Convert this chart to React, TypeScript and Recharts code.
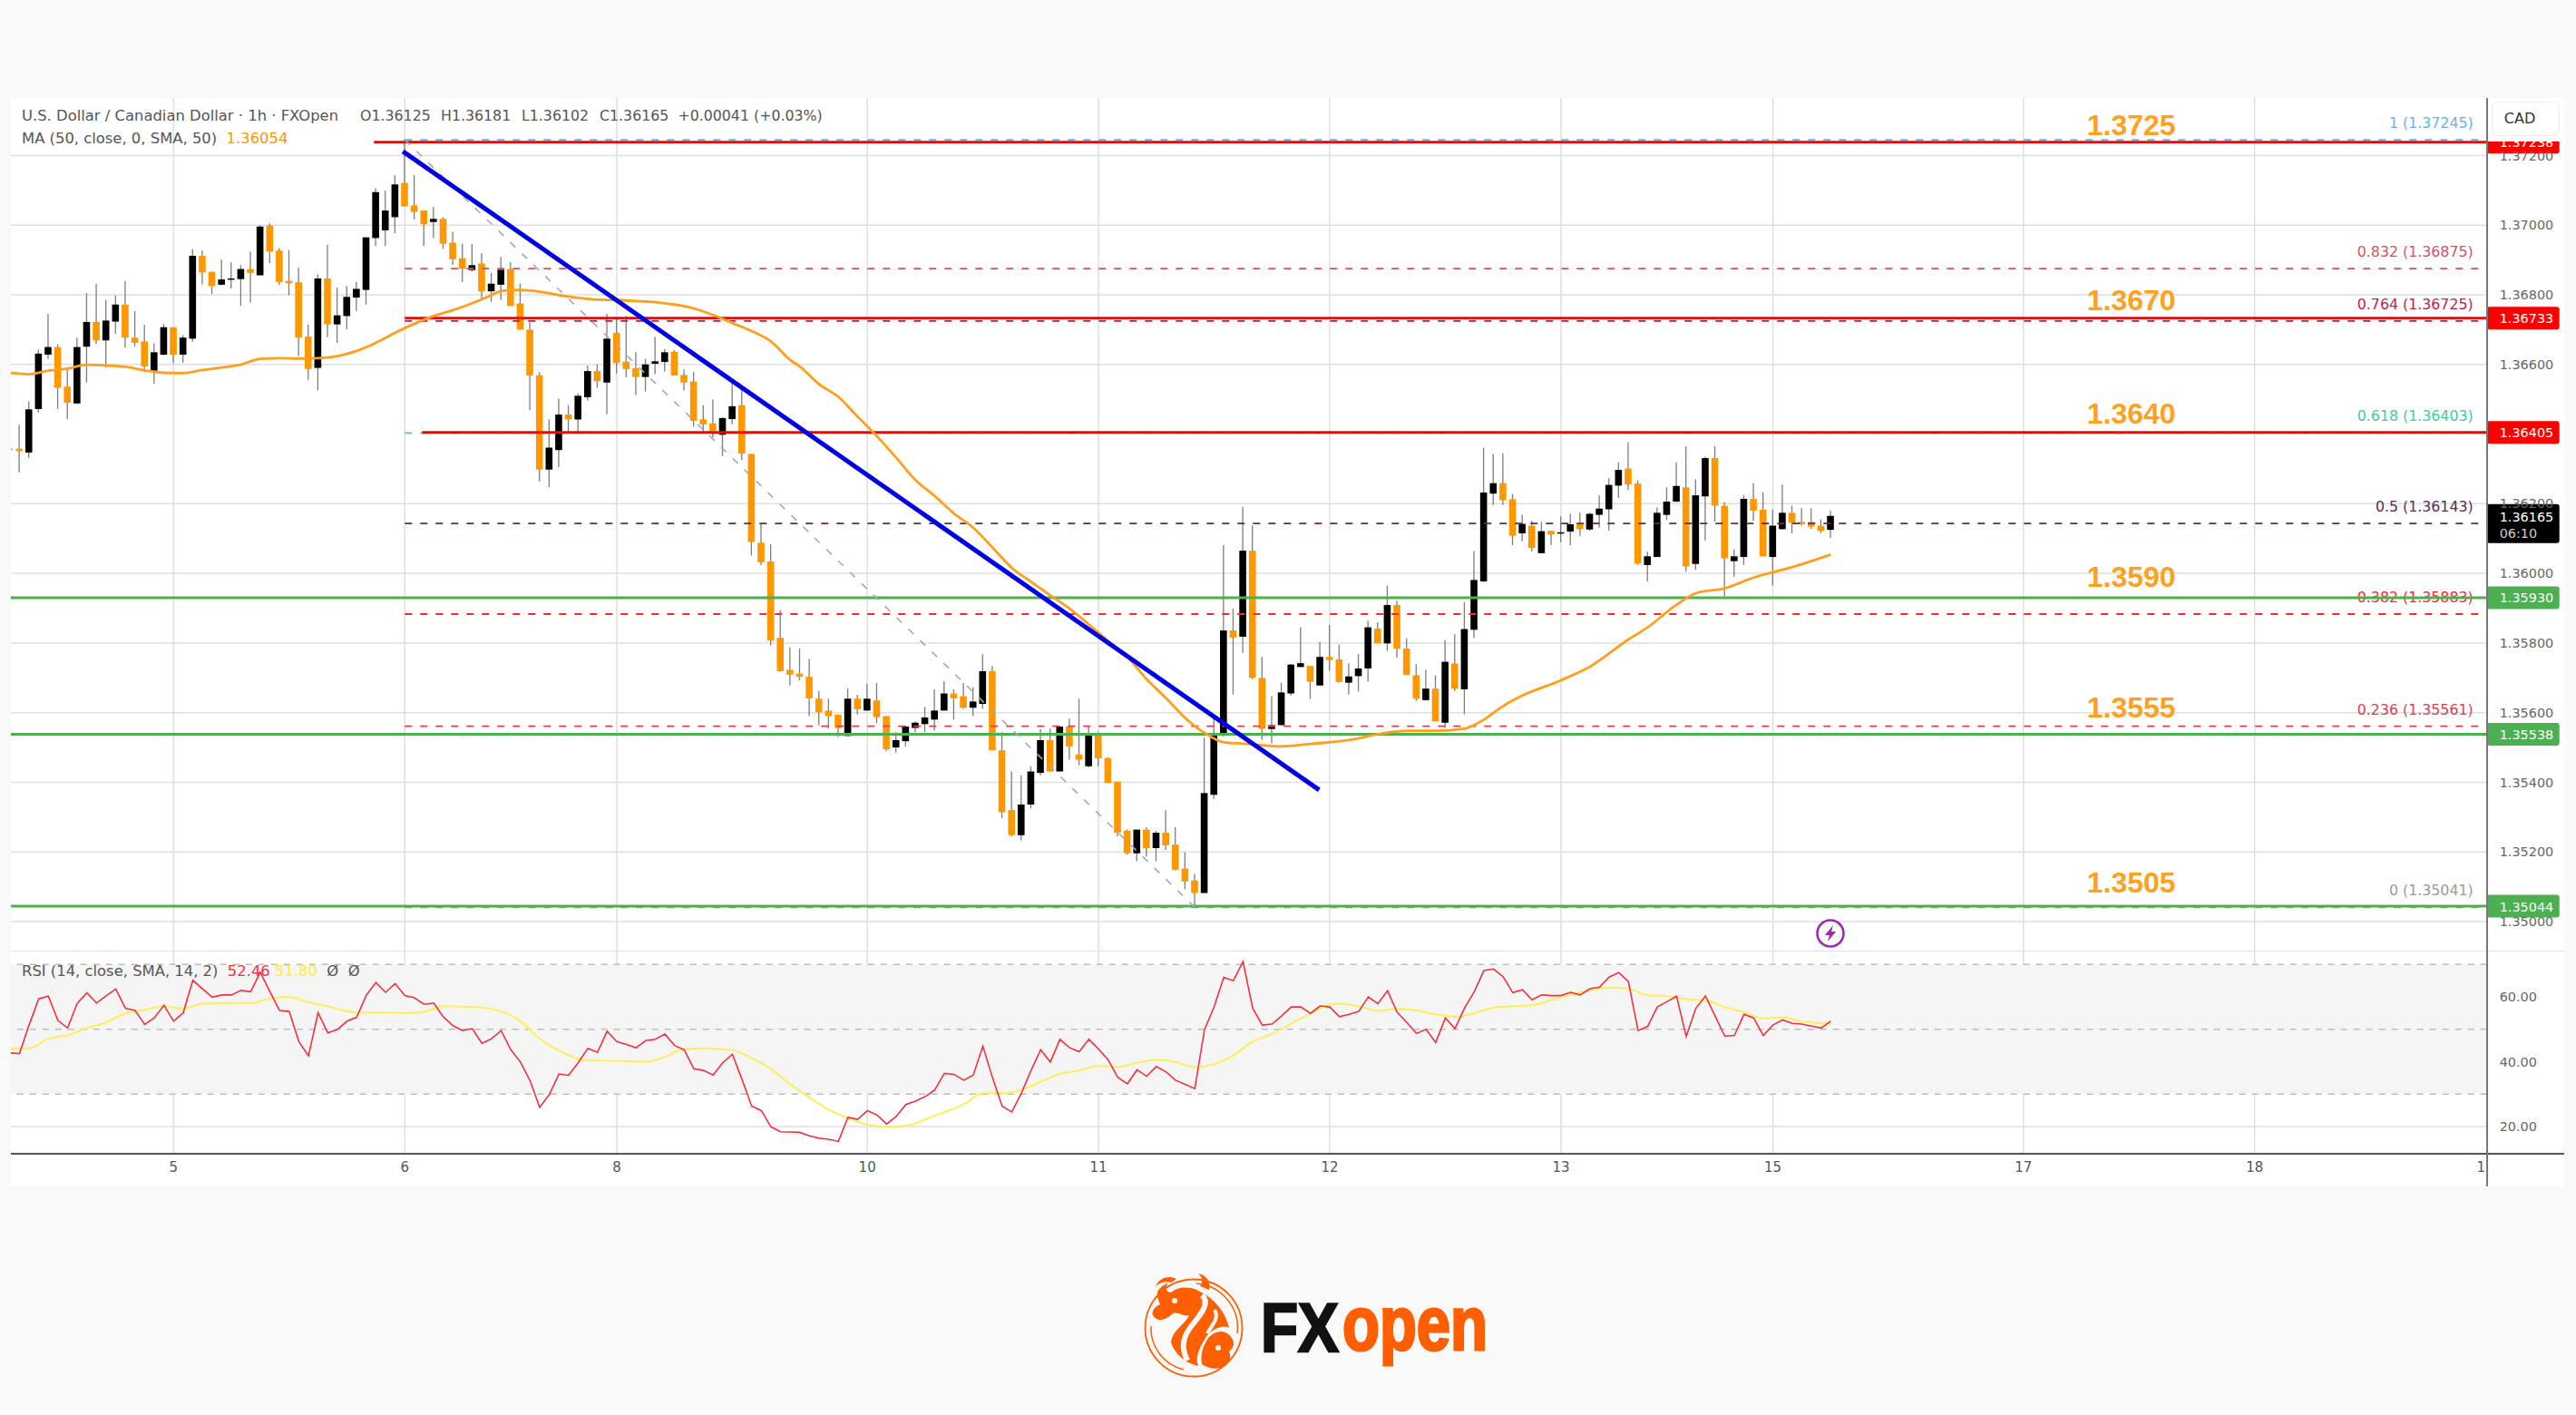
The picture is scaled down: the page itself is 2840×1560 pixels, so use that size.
import React from "react";
import {
  ComposedChart,
  Bar,
  Line,
  XAxis,
  YAxis,
  CartesianGrid,
  ReferenceLine,
  ReferenceArea,
} from "recharts";

// hourly candles
const opens = [
  1.36358, 1.36358, 1.36347, 1.36472, 1.36628, 1.3665, 1.36536, 1.36488, 1.36651, 1.36722,
  1.36669, 1.36723, 1.36772, 1.36677, 1.36666, 1.36582, 1.36628, 1.36707, 1.36628, 1.36674,
  1.36912, 1.36866, 1.36829, 1.36845, 1.36845, 1.36874, 1.36856, 1.36999, 1.36927, 1.3684,
  1.36836, 1.3668, 1.3659, 1.36847, 1.36715, 1.36739, 1.36792, 1.36814, 1.36963, 1.36985,
  1.37023, 1.37121, 1.37057, 1.37042, 1.37009, 1.37018, 1.3695, 1.36905, 1.36871, 1.3689,
  1.3681, 1.36829, 1.36874, 1.36775, 1.367, 1.36569, 1.36298, 1.36354, 1.36456, 1.36442,
  1.36506, 1.36581, 1.36548, 1.36691, 1.36608, 1.36589, 1.36564, 1.36602, 1.36607, 1.36636,
  1.3657, 1.36551, 1.36442, 1.36431, 1.36398, 1.36443, 1.36483, 1.36343, 1.36088, 1.36034,
  1.35815, 1.35723, 1.35712, 1.35703, 1.3564, 1.35606, 1.35594, 1.35533, 1.3564, 1.35606,
  1.35635, 1.3559, 1.355, 1.35518, 1.35556, 1.35567, 1.3558, 1.35606, 1.35655, 1.35647,
  1.35614, 1.35625, 1.35719, 1.35492, 1.3532, 1.35248, 1.35336, 1.35427, 1.35521, 1.35431,
  1.3556, 1.3548, 1.35446, 1.35537, 1.35469, 1.35402, 1.35261, 1.35196, 1.35264, 1.35211,
  1.35255, 1.35221, 1.35152, 1.35118, 1.35082, 1.35364, 1.35539, 1.35836, 1.35818, 1.36065,
  1.357, 1.35553, 1.35564, 1.35655, 1.35731, 1.35734, 1.35678, 1.3576, 1.35753, 1.35686,
  1.35705, 1.35727, 1.35841, 1.35799, 1.35909, 1.35784, 1.35707, 1.35636, 1.35669, 1.35571,
  1.35741, 1.35667, 1.35838, 1.35977, 1.36229, 1.36259, 1.36213, 1.36115, 1.36137, 1.36058,
  1.36122, 1.36115, 1.3612, 1.36144, 1.36126, 1.36168, 1.36184, 1.36252, 1.36301, 1.36258,
  1.36024, 1.36047, 1.36168, 1.36206, 1.36247, 1.36027, 1.36221, 1.36331, 1.36194, 1.36035,
  1.36047, 1.36214, 1.36183, 1.36047, 1.36127, 1.36174, 1.36148, 1.36148, 1.36137, 1.36125,
];
const highs = [
  1.36362, 1.36426, 1.36494, 1.36643, 1.36745, 1.36658, 1.36587, 1.36677, 1.36805, 1.36832,
  1.36786, 1.36799, 1.3684, 1.36753, 1.36714, 1.3666, 1.36717, 1.36707, 1.36684, 1.36931,
  1.36927, 1.36866, 1.36901, 1.36893, 1.36885, 1.36924, 1.36999, 1.37005, 1.36934, 1.36928,
  1.36878, 1.36714, 1.36859, 1.36943, 1.36821, 1.36825, 1.36837, 1.36965, 1.37106, 1.37099,
  1.37143, 1.37246, 1.37144, 1.37042, 1.37053, 1.37023, 1.36981, 1.36947, 1.36946, 1.36919,
  1.36863, 1.36909, 1.36893, 1.36832, 1.36721, 1.36578, 1.36442, 1.36502, 1.36483, 1.36517,
  1.36597, 1.366, 1.36745, 1.36734, 1.36739, 1.36635, 1.36616, 1.36679, 1.36644, 1.36641,
  1.36586, 1.36579, 1.36483, 1.36499, 1.36448, 1.36558, 1.36527, 1.36343, 1.36143, 1.36083,
  1.35894, 1.35788, 1.35784, 1.35754, 1.35662, 1.3564, 1.35595, 1.35669, 1.35651, 1.35683,
  1.35685, 1.3559, 1.35544, 1.35562, 1.35575, 1.35616, 1.35667, 1.3569, 1.35667, 1.35685,
  1.35673, 1.35768, 1.35734, 1.35544, 1.35431, 1.3542, 1.35446, 1.35552, 1.35554, 1.35562,
  1.35583, 1.3564, 1.35562, 1.35544, 1.35472, 1.35402, 1.35264, 1.35264, 1.35271, 1.35261,
  1.3532, 1.35271, 1.35199, 1.35137, 1.35528, 1.35585, 1.36081, 1.35899, 1.36191, 1.36138,
  1.3576, 1.35647, 1.35686, 1.3574, 1.35845, 1.35734, 1.35803, 1.35852, 1.35795, 1.35742,
  1.35768, 1.35864, 1.35859, 1.35965, 1.35921, 1.35814, 1.35739, 1.35723, 1.35707, 1.35809,
  1.35825, 1.35917, 1.36064, 1.36361, 1.36343, 1.36345, 1.36228, 1.36168, 1.36151, 1.36148,
  1.36122, 1.36164, 1.36171, 1.36174, 1.36174, 1.36224, 1.36273, 1.36319, 1.36377, 1.36267,
  1.36062, 1.3619, 1.36247, 1.36319, 1.36365, 1.3627, 1.36335, 1.36365, 1.36205, 1.36069,
  1.36224, 1.36259, 1.36233, 1.36183, 1.36255, 1.36194, 1.36187, 1.36187, 1.36155, 1.36181,
];
const lows = [
  1.3635, 1.3629, 1.36332, 1.36462, 1.36616, 1.36472, 1.36443, 1.36486, 1.36548, 1.36658,
  1.36591, 1.36688, 1.36648, 1.36652, 1.36578, 1.36545, 1.36626, 1.36604, 1.36605, 1.36665,
  1.3683, 1.36802, 1.36827, 1.36818, 1.36769, 1.36777, 1.36856, 1.36891, 1.36828, 1.36799,
  1.36624, 1.36556, 1.36526, 1.36678, 1.36662, 1.36701, 1.36753, 1.36772, 1.3694, 1.3694,
  1.36977, 1.37054, 1.37016, 1.3694, 1.36963, 1.36932, 1.36886, 1.36837, 1.36867, 1.36785,
  1.3678, 1.36785, 1.36768, 1.367, 1.36469, 1.36264, 1.36248, 1.36305, 1.36404, 1.36402,
  1.36496, 1.36533, 1.36457, 1.36574, 1.36563, 1.36512, 1.36522, 1.36572, 1.36579, 1.36568,
  1.36525, 1.36421, 1.36404, 1.3639, 1.36337, 1.36428, 1.36325, 1.36051, 1.36024, 1.35793,
  1.35717, 1.35678, 1.35693, 1.3559, 1.35564, 1.35554, 1.35531, 1.35533, 1.35595, 1.35606,
  1.3557, 1.3549, 1.35485, 1.35503, 1.35544, 1.35544, 1.35549, 1.35606, 1.3558, 1.35611,
  1.3559, 1.35611, 1.35492, 1.35297, 1.35245, 1.35233, 1.35325, 1.3542, 1.35431, 1.35431,
  1.35465, 1.35449, 1.35443, 1.35446, 1.35398, 1.35245, 1.35192, 1.35173, 1.35187, 1.35173,
  1.35206, 1.35149, 1.35093, 1.35041, 1.35082, 1.35352, 1.35531, 1.35652, 1.35772, 1.35696,
  1.35522, 1.35512, 1.35564, 1.35649, 1.35731, 1.35639, 1.35678, 1.3572, 1.35686, 1.35652,
  1.3566, 1.35689, 1.35799, 1.35777, 1.35758, 1.35708, 1.35634, 1.35634, 1.35575, 1.35556,
  1.35662, 1.35595, 1.35814, 1.35975, 1.36196, 1.36196, 1.36081, 1.36092, 1.36063, 1.36057,
  1.36081, 1.36089, 1.36081, 1.36108, 1.36122, 1.36131, 1.36123, 1.36217, 1.3624, 1.36025,
  1.35977, 1.36047, 1.36153, 1.36205, 1.36005, 1.3601, 1.36095, 1.36148, 1.35934, 1.3599,
  1.36024, 1.36151, 1.36049, 1.35966, 1.36125, 1.36115, 1.36137, 1.36127, 1.36116, 1.36102,
];
const closes = [
  1.36354, 1.36351, 1.36471, 1.36631, 1.3665, 1.36533, 1.3649, 1.3665, 1.36722, 1.36669,
  1.36726, 1.36772, 1.36677, 1.36662, 1.36594, 1.36635, 1.36707, 1.36628, 1.36677, 1.36912,
  1.36864, 1.36825, 1.36844, 1.36847, 1.36874, 1.36863, 1.36996, 1.36924, 1.36837, 1.36833,
  1.36677, 1.36587, 1.36847, 1.36715, 1.36741, 1.36794, 1.36817, 1.36965, 1.37095, 1.37042,
  1.37117, 1.37054, 1.37038, 1.37003, 1.37018, 1.36947, 1.36902, 1.36875, 1.36885, 1.3681,
  1.36832, 1.36872, 1.36768, 1.367, 1.36568, 1.36298, 1.36361, 1.36456, 1.36442, 1.3651,
  1.36581, 1.36552, 1.36674, 1.36604, 1.36587, 1.36564, 1.366, 1.36609, 1.36635, 1.36568,
  1.36548, 1.36438, 1.36428, 1.36401, 1.36446, 1.3648, 1.36344, 1.3609, 1.36032, 1.35807,
  1.35719, 1.35709, 1.35703, 1.35641, 1.35601, 1.3559, 1.35556, 1.3564, 1.3561, 1.3564,
  1.35587, 1.35495, 1.35521, 1.3556, 1.35571, 1.35586, 1.35606, 1.35655, 1.35641, 1.35614,
  1.35632, 1.35719, 1.35492, 1.35314, 1.35248, 1.35336, 1.35431, 1.35521, 1.35431, 1.3556,
  1.35503, 1.35465, 1.35537, 1.35469, 1.35398, 1.35255, 1.35196, 1.35264, 1.35211, 1.35255,
  1.35219, 1.35149, 1.35115, 1.35082, 1.35369, 1.35537, 1.35836, 1.35816, 1.36065, 1.357,
  1.35554, 1.35564, 1.35658, 1.35738, 1.35742, 1.35689, 1.3576, 1.35751, 1.35688, 1.35704,
  1.35727, 1.35845, 1.35799, 1.35909, 1.35784, 1.35708, 1.3564, 1.35669, 1.35575, 1.35746,
  1.35669, 1.3584, 1.35981, 1.36232, 1.36259, 1.3621, 1.36108, 1.36142, 1.36073, 1.36121,
  1.36112, 1.36118, 1.36141, 1.36127, 1.36171, 1.36186, 1.36254, 1.36297, 1.36255, 1.36028,
  1.36049, 1.36174, 1.36206, 1.36251, 1.3602, 1.36224, 1.36331, 1.36195, 1.36043, 1.36049,
  1.36214, 1.3618, 1.36049, 1.36137, 1.36174, 1.36145, 1.36141, 1.36134, 1.36122, 1.36165,
];

// MA(50) read at these candles
const maIndex = [
  0, 2, 4, 6, 8, 10, 12, 14, 16, 18, 20, 22, 24, 26, 28, 30, 32, 34, 36, 38, 40, 42, 44, 46, 48, 50, 51, 52, 53, 55, 57,
  59, 61, 63, 65, 67, 69, 71, 73, 75, 77, 79, 81, 82, 84, 86, 88, 90, 92, 94, 96, 98, 100, 102, 104, 106, 108, 110, 112,
  114, 116, 118, 120, 122, 124, 126, 128, 129, 132, 135, 139, 143, 145, 148, 151, 153, 155, 157, 161, 164, 168, 170,
  173, 175, 178, 181, 185, 189,
];
const maValues = [
  1.36576, 1.36572, 1.36582, 1.36588, 1.36599, 1.36597, 1.36593, 1.36583, 1.36576, 1.36575, 1.36584, 1.36591, 1.366,
  1.36616, 1.36618, 1.36617, 1.36618, 1.36624, 1.36639, 1.36662, 1.36691, 1.36717, 1.36739, 1.36756, 1.36776, 1.36799,
  1.36811, 1.36813, 1.36814, 1.36809, 1.36799, 1.36791, 1.36786, 1.36785, 1.36782, 1.36779, 1.36772, 1.36761, 1.36742,
  1.36719, 1.36696, 1.36666, 1.36613, 1.36594, 1.36543, 1.36507, 1.3645, 1.36394, 1.36332, 1.36268, 1.36222, 1.36172,
  1.36131, 1.36074, 1.36016, 1.35976, 1.35937, 1.35899, 1.35853, 1.35806, 1.3576, 1.35696, 1.35642, 1.35585, 1.35542,
  1.35515, 1.35511, 1.35509, 1.35503, 1.3551, 1.35521, 1.35543, 1.35548, 1.35548, 1.35554, 1.3558, 1.35619, 1.35649,
  1.35693, 1.35732, 1.3581, 1.35845, 1.3591, 1.35943, 1.35957, 1.35988, 1.36018, 1.36054,
];

const rsiValues = [
  42.7, 42.5, 51.3, 59.4, 60.2, 52.7, 50.4, 58.0, 61.3, 58.1, 60.3, 62.4, 56.5, 55.8, 51.5, 53.5, 57.4, 52.5, 55.1, 65.1,
  62.5, 59.9, 60.6, 60.6, 62.0, 61.6, 67.6, 61.6, 55.8, 55.5, 46.2, 41.8, 55.1, 48.9, 49.9, 52.5, 53.7, 60.5, 64.4, 61.4,
  64.1, 60.4, 59.7, 57.7, 58.1, 53.8, 51.1, 49.6, 50.2, 45.7, 47.1, 49.6, 43.7, 39.9, 34.1, 25.9, 29.9, 36.2, 35.8, 39.7,
  44.1, 42.9, 49.4, 46.2, 45.3, 44.3, 46.5, 46.9, 48.5, 45.0, 43.7, 37.8, 37.3, 35.9, 39.7, 42.3, 34.5, 26.3, 24.9, 19.9,
  18.4, 18.3, 18.2, 17.1, 16.4, 16.1, 15.4, 22.9, 22.2, 24.9, 23.6, 20.8, 23.1, 26.8, 27.8, 29.2, 31.3, 36.4, 36.1, 34.3,
  35.9, 44.8, 35.0, 26.3, 24.5, 30.3, 37.3, 43.7, 39.9, 46.9, 44.3, 43.1, 46.9, 43.9, 40.6, 35.2, 33.2, 37.5, 35.5, 38.5,
  36.9, 34.3, 33.0, 31.7, 49.9, 56.9, 66.0, 65.0, 70.9, 56.5, 51.3, 51.6, 54.1, 56.9, 56.9, 54.9, 57.2, 56.9, 53.9, 54.6,
  55.5, 60.0, 57.9, 61.9, 55.2, 52.1, 48.7, 50.0, 45.9, 53.5, 50.2, 56.6, 61.6, 68.1, 68.6, 66.2, 61.3, 62.2, 59.1, 60.6,
  60.4, 60.4, 61.4, 60.6, 62.5, 63.0, 66.1, 67.5, 64.7, 49.6, 50.9, 56.9, 58.5, 60.2, 47.8, 56.5, 60.3, 54.1, 47.9, 48.1,
  54.6, 53.5, 48.1, 51.3, 52.9, 51.8, 51.6, 51.0, 50.4, 52.46,
];
const rsiMaIndex = [
  0, 2, 4, 6, 8, 10, 12, 14, 16, 18, 20, 23, 25, 27, 29, 31, 33, 36, 39, 41, 43, 45, 48, 51, 53, 55, 57, 60, 63, 66, 68,
  70, 72, 75, 77, 79, 81, 83, 85, 87, 89, 91, 93, 96, 99, 101, 103, 105, 107, 109, 111, 113, 115, 117, 119, 121, 123,
  125, 127, 129, 131, 133, 135, 137, 138, 140, 142, 144, 146, 148, 150, 152, 154, 156, 158, 160, 162, 164, 166, 168,
  170, 172, 174, 176, 178, 180, 182, 184, 186, 189,
];
const rsiMaValues = [
  44.1, 44.1, 47.1, 48.1, 50.4, 52.1, 54.9, 56.0, 57.1, 56.3, 57.9, 58.1, 58.1, 59.5, 59.9, 58.3, 57.1, 55.2, 55.2, 55.0,
  55.4, 57.1, 56.9, 55.5, 52.5, 47.1, 43.4, 40.4, 40.3, 40.0, 41.5, 43.9, 44.1, 43.6, 41.1, 37.8, 33.1, 28.9, 25.2, 22.6,
  20.6, 19.8, 20.2, 23.4, 26.8, 30.3, 30.3, 31.3, 33.8, 36.2, 37.3, 38.7, 38.3, 39.7, 40.6, 39.9, 38.3, 39.2, 42.0, 46.2,
  48.5, 51.8, 54.8, 57.6, 57.9, 57.1, 55.7, 56.3, 55.8, 54.6, 53.9, 54.9, 56.7, 57.1, 57.4, 59.0, 60.6, 62.0, 62.8, 62.5,
  60.5, 60.2, 59.3, 58.8, 56.9, 55.2, 53.4, 53.7, 52.4, 51.8,
];

const priceTicks = [1.35, 1.352, 1.354, 1.356, 1.358, 1.36, 1.362, 1.366, 1.368, 1.37, 1.372];
const rsiTicks = [20, 40, 60];
const dateTicks = [17, 41, 63, 89, 113, 137, 161, 183, 209, 233];
const dateLabels = ["5", "6", "8", "10", "11", "12", "13", "15", "17", "18"];

// horizontal levels drawn on the chart
const keyPrices = [1.37238, 1.36733, 1.36405, 1.3593, 1.35538, 1.35044];
const keyNames = ["1.3725", "1.3670", "1.3640", "1.3590", "1.3555", "1.3505"];
const keyColors = ["#ff0000", "#ff0000", "#ff0000", "#4caf50", "#4caf50", "#4caf50"];
const keyStarts = [37.8, 41, 42.8, 0.113, 0.113, 0.113];
const keyLift = [8, 9, 10, 12, 18, 15];

const fibRatios = ["1", "0.832", "0.764", "0.618", "0.5", "0.382", "0.236", "0"];
const fibPrices = [1.37245, 1.36875, 1.36725, 1.36403, 1.36143, 1.35883, 1.35561, 1.35041];
const fibColors = ["#64b5e6", "#d25560", "#c41e3f", "#3fcc9f", "#5d2c50", "#ff2626", "#d6434f", "#9a9a9a"];

const xMin = 0.113;
const xMax = 257.1;
const LEFT = 12;
const FONT = "'DejaVu Sans', sans-serif";

const rows = opens.map((open, i) => ({
  i,
  open,
  close: closes[i],
  range: [lows[i], highs[i]],
  rsi: rsiValues[i],
  ma: maIndex.includes(i) ? maValues[maIndex.indexOf(i)] : null,
  rsiMa: rsiMaIndex.includes(i) ? rsiMaValues[rsiMaIndex.indexOf(i)] : null,
}));

const Candle = (props: any) => {
  const { x, y, width, height, payload } = props;
  const [low, high] = payload.range;
  const toY = (v: number) => y + ((high - v) / (high - low)) * height;
  const top = toY(Math.max(payload.open, payload.close));
  const bottom = toY(Math.min(payload.open, payload.close));
  const cx = x + width / 2;
  const fill = payload.close >= payload.open ? "#000000" : "#ff9800";
  return (
    <g>
      <line x1={cx} x2={cx} y1={y} y2={y + height} stroke="#7d7d7d" strokeWidth={1.3} />
      <rect x={cx - 3.8} y={top} width={7.6} height={Math.max(bottom - top, 1.5)} fill={fill} />
    </g>
  );
};

const priceTag = (right: number, y: number, price: number, fill: string) => (
  <g>
    <rect x={right} y={y - 12.5} width={80} height={25} rx={3} fill={fill} />
    <text x={right + 14} y={y + 5.5} fill="#fff" fontSize={14.4} fontFamily={FONT}>
      {price.toFixed(5)}
    </text>
  </g>
);

const keyLabel = (k: number) => (props: any) => {
  const { x, y, width } = props.viewBox;
  const right = x + width;
  return (
    <g>
      <text
        x={right - 441}
        y={y - keyLift[k]}
        fill="#ffa11f"
        fontSize={32}
        fontWeight={700}
        fontFamily="'Liberation Sans', sans-serif"
      >
        {keyNames[k]}
      </text>
      {priceTag(right, y, keyPrices[k], keyColors[k])}
    </g>
  );
};

const fibLabel = (k: number) => (props: any) => {
  const { x, y, width } = props.viewBox;
  return (
    <text x={x + width - 15} y={y - 13} textAnchor="end" fill={fibColors[k]} fontSize={15.8} fontFamily={FONT}>
      {fibRatios[k]} ({fibPrices[k].toFixed(5)})
    </text>
  );
};

const lastPriceLabel = (props: any) => {
  const { x, y, width } = props.viewBox;
  const right = x + width;
  return (
    <g>
      <rect x={right} y={y - 13} width={80} height={43} rx={3} fill="#000" />
      <text x={right + 14} y={y + 6} fill="#fff" fontSize={14.4} fontFamily={FONT}>
        1.36165
      </text>
      <text x={right + 14} y={y + 24} fill="#ccc" fontSize={14.4} fontFamily={FONT}>
        06:10
      </text>
    </g>
  );
};

const Logo = () => (
  <svg width={420} height={130} style={{ position: "absolute", left: 1255, top: 1400 }}>
    <circle cx={61} cy={64} r={53.5} fill="none" stroke="#ff5f00" strokeWidth={1.8} />
    <path d="M 64 15 A 49 49 0 0 1 109 70" fill="none" stroke="#ff5f00" strokeWidth={1.5} />
    <path d="M 14 62 A 47 47 0 0 0 50 110" fill="none" stroke="#ff5f00" strokeWidth={1.5} />
    <g fill="#ff5f00">
      {/* upper bull */}
      <path d="M 21 30 C 19 22 26 18 33 14 C 29 20 30 24 36 25 C 44 18 58 18 68 24 C 84 32 96 46 100 64 C 94 60 84 64 76 72 C 68 84 62 96 66 106 C 50 102 40 92 36 80 C 38 66 50 62 56 50 C 50 52 44 46 38 48 C 30 56 20 58 16 50 C 14 44 20 40 24 38 Z" />
      {/* lower bull */}
      <path d="M 78 74 C 84 68 92 66 98 70 C 106 76 108 84 100 90 C 104 98 98 104 92 108 C 84 110 76 108 70 104 C 68 92 72 82 78 74 Z" />
      <path d="M 19 18 C 24 8 34 6 42 10 L 36 14 C 30 12 24 14 19 18 Z" />
      <path d="M 68 18 C 72 12 70 8 66 4 C 76 6 80 14 78 22 Z" />
    </g>
    <path d="M 70 28 C 80 36 68 50 60 60 C 50 72 46 84 54 100" fill="none" stroke="#f9f9f9" strokeWidth={6} />
    <path d="M 84 44 C 90 54 80 62 76 70" fill="none" stroke="#f9f9f9" strokeWidth={4} />
    <circle cx={40} cy={34} r={3} fill="#f9f9f9" />
    <circle cx={88} cy={86} r={3} fill="#f9f9f9" />
    <text
      x={135}
      y={90}
      fontSize={76}
      fontWeight={700}
      fontFamily="'Liberation Sans', sans-serif"
      fill="#111"
      stroke="#111"
      strokeWidth={2.5}
      textLength={86}
      lengthAdjust="spacingAndGlyphs"
    >
      FX
    </text>
    <text
      x={225}
      y={88}
      fontSize={84}
      fontWeight={700}
      fontFamily="'Liberation Sans', sans-serif"
      fill="#ff5f00"
      stroke="#ff5f00"
      strokeWidth={3}
      textLength={160}
      lengthAdjust="spacingAndGlyphs"
    >
      open
    </text>
  </svg>
);

const App = () => {
  const gridColor = "#dfdfdf";
  const textStyle: React.CSSProperties = {
    position: "absolute",
    fontFamily: FONT,
    fontSize: 16.4,
    color: "#555",
    whiteSpace: "pre",
    lineHeight: "18px",
  };
  return (
    <div
      style={{
        position: "absolute",
        left: 0,
        top: 0,
        width: 2840,
        height: 1560,
        background: "#f9f9f9",
        overflow: "hidden",
      }}
    >
      <div style={{ position: "absolute", left: LEFT, top: 108, width: 2815, height: 1200, background: "#fff" }} />

      <div style={{ position: "absolute", left: LEFT, top: 108 }}>
        <ComposedChart width={2815} height={940} data={rows} margin={{ top: 0, right: 0, bottom: 0, left: 0 }}>
          <CartesianGrid stroke={gridColor} strokeWidth={1.5} verticalValues={dateTicks} horizontalValues={priceTicks} />
          <XAxis dataKey="i" type="number" domain={[xMin, xMax]} ticks={dateTicks} allowDataOverflow hide />
          <YAxis
            orientation="right"
            width={85.3}
            domain={[1.349166, 1.373653]}
            ticks={priceTicks}
            interval={0}
            allowDataOverflow
            axisLine={false}
            tickLine={false}
            tickSize={0}
            tickMargin={14}
            tick={{ fill: "#666", fontSize: 14.4, fontFamily: FONT }}
            tickFormatter={(v: number) => v.toFixed(5)}
          />
          {fibPrices.map((p, k) => (
            <ReferenceLine
              key={`fib${k}`}
              segment={[
                { x: 41, y: p },
                { x: xMax, y: p },
              ]}
              stroke={fibColors[k]}
              strokeWidth={1.8}
              strokeDasharray="8 9"
              label={fibLabel(k)}
            />
          ))}
          {keyPrices.map((p, k) => (
            <ReferenceLine
              key={`key${k}`}
              segment={[
                { x: keyStarts[k], y: p },
                { x: xMax, y: p },
              ]}
              stroke={keyColors[k]}
              strokeWidth={3}
              label={keyLabel(k)}
            />
          ))}
          <ReferenceLine
            segment={[
              { x: 41, y: 1.37245 },
              { x: 123, y: 1.35041 },
            ]}
            stroke="#a8a8a8"
            strokeWidth={1.6}
            strokeDasharray="8 10"
          />
          <Bar
            dataKey="range"
            barSize={8}
            shape={(p: any) => <Candle {...p} />}
            isAnimationActive={false}
          />
          <Line
            dataKey="ma"
            type="monotone"
            stroke="#ff9f1c"
            strokeWidth={2.8}
            dot={false}
            connectNulls
            isAnimationActive={false}
          />
          <ReferenceLine
            segment={[
              { x: 40.8, y: 1.37212 },
              { x: 135.9, y: 1.35378 },
            ]}
            stroke="#0000e6"
            strokeWidth={5}
          />
          <ReferenceLine
            segment={[
              { x: xMin, y: 1.36165 },
              { x: xMax, y: 1.36165 },
            ]}
            stroke="none"
            label={lastPriceLabel}
          />
        </ComposedChart>
      </div>

      <div style={{ position: "absolute", left: LEFT, top: 1048 }}>
        <ComposedChart width={2815} height={260} data={rows} margin={{ top: 0, right: 0, bottom: 0, left: 0 }}>
          <ReferenceArea y1={30} y2={70} fill="#f5f5f5" fillOpacity={1} stroke="none" />
          <CartesianGrid stroke={gridColor} strokeWidth={1.5} verticalValues={dateTicks} horizontalValues={rsiTicks} />
          <XAxis
            dataKey="i"
            type="number"
            domain={[xMin, xMax]}
            ticks={[...dateTicks, 256.5]}
            interval={0}
            allowDataOverflow
            height={36}
            axisLine={false}
            tickLine={false}
            tickSize={0}
            tickMargin={9}
            tick={{ fill: "#555", fontSize: 15, fontFamily: FONT }}
            tickFormatter={(v: number) => (v === 256.5 ? "1" : dateLabels[dateTicks.indexOf(v)])}
          />
          <YAxis
            orientation="right"
            width={85.3}
            domain={[11.6, 74.27]}
            ticks={rsiTicks}
            interval={0}
            allowDataOverflow
            axisLine={false}
            tickLine={false}
            tickSize={0}
            tickMargin={14}
            tick={{ fill: "#666", fontSize: 14.4, fontFamily: FONT }}
            tickFormatter={(v: number) => v.toFixed(2)}
          />
          {[70, 50, 30].map((v) => (
            <ReferenceLine key={v} y={v} stroke="#bdbdbd" strokeWidth={1.5} strokeDasharray="7 7" />
          ))}
          <Line
            dataKey="rsiMa"
            type="monotone"
            stroke="#ffee58"
            strokeWidth={2}
            dot={false}
            connectNulls
            isAnimationActive={false}
          />
          <Line dataKey="rsi" stroke="#f5303f" strokeWidth={1.6} dot={false} isAnimationActive={false} />
        </ComposedChart>
      </div>

      <div style={{ position: "absolute", left: LEFT, top: 1048, width: 2815, height: 1, background: "#e0e3eb" }} />
      <div style={{ position: "absolute", left: LEFT, top: 1271, width: 2815, height: 2, background: "#555" }} />
      <div style={{ position: "absolute", left: 2741, top: 108, width: 2, height: 1200, background: "#777" }} />

      <div style={{ position: "absolute", left: 2743, top: 108, width: 84, height: 48, background: "#fff" }} />
      <div
        style={{
          position: "absolute",
          left: 2747,
          top: 112,
          width: 60,
          height: 36,
          paddingRight: 13,
          border: "1px solid #eee",
          borderRadius: 6,
          background: "#fff",
          textAlign: "center",
          lineHeight: "36px",
          fontFamily: FONT,
          fontSize: 16,
          color: "#333",
        }}
      >
        CAD
      </div>

      <div style={{ ...textStyle, left: 24, top: 119 }}>U.S. Dollar / Canadian Dollar · 1h · FXOpen</div>
      <div style={{ ...textStyle, fontSize: 15.8, left: 397, top: 119 }}>O1.36125</div>
      <div style={{ ...textStyle, fontSize: 15.8, left: 486, top: 119 }}>H1.36181</div>
      <div style={{ ...textStyle, fontSize: 15.8, left: 575, top: 119 }}>L1.36102</div>
      <div style={{ ...textStyle, fontSize: 15.8, left: 661, top: 119 }}>C1.36165  +0.00041 (+0.03%)</div>
      <div style={{ ...textStyle, left: 24, top: 144 }}>
        MA (50, close, 0, SMA, 50)  <span style={{ color: "#ff9800" }}>1.36054</span>
      </div>
      <div style={{ ...textStyle, left: 24, top: 1062 }}>
        RSI (14, close, SMA, 14, 2)  <span style={{ color: "#f5303f" }}>52.46</span>{" "}
        <span style={{ color: "#ffeb3b" }}>51.80</span>  Ø  Ø
      </div>

      <svg width={40} height={40} style={{ position: "absolute", left: 1998, top: 1009 }}>
        <circle cx={20} cy={20} r={14.5} fill="#fff" stroke="#9c27b0" strokeWidth={2.5} />
        <path d="M 23 11 L 14 22 L 19 22 L 17 29 L 26 18 L 21 18 Z" fill="#9c27b0" />
      </svg>

      <Logo />
    </div>
  );
};

export default App;
